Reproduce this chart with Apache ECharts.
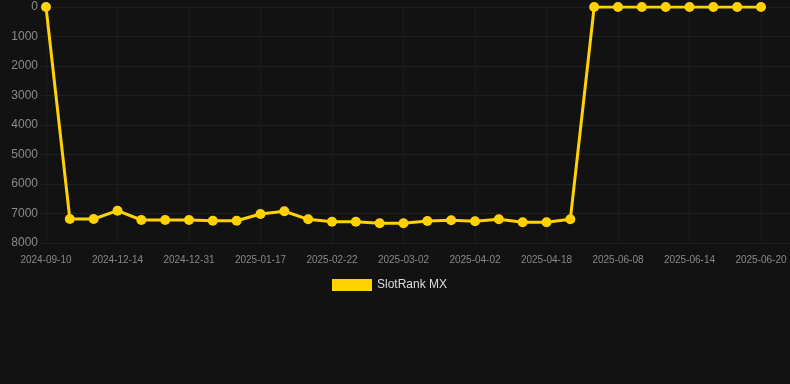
<!DOCTYPE html>
<html><head><meta charset="utf-8">
<script src="https://cdn.jsdelivr.net/npm/echarts@6/dist/echarts.min.js"></script>
<style>html,body{margin:0;padding:0;background:#121212;}#c{width:790px;height:384px;}</style>
</head><body><div id="c"></div>
<script>
var categories = ["2024-09-10","2024-11-20","2024-12-05","2024-12-14","2024-12-19","2024-12-25","2024-12-31","2025-01-06","2025-01-11","2025-01-17","2025-01-29","2025-02-10","2025-02-22","2025-02-25","2025-02-28","2025-03-02","2025-03-12","2025-03-22","2025-04-02","2025-04-07","2025-04-12","2025-04-18","2025-04-25","2025-06-06","2025-06-08","2025-06-10","2025-06-12","2025-06-14","2025-06-16","2025-06-18","2025-06-20"];
var seriesName = "SlotRank MX";
var values = [0,7186,7186,6905,7220,7220,7220,7244,7244,7017,6925,7197,7278,7278,7332,7332,7254,7231,7264,7197,7298,7298,7197,0,0,0,0,0,0,0,0];
var yTicks = {min:0, max:8000, interval:1000};

var chart = echarts.init(document.getElementById('c'));
chart.setOption({
  backgroundColor:'#121212',
  animation:false,
  grid:[{left:46,right:29,top:7,bottom:141,containLabel:false},
        {left:40,right:0,top:7,bottom:141,containLabel:false}],
  legend:{top:274,left:327,itemWidth:40,itemHeight:12,icon:'rect',itemGap:10,
    textStyle:{color:'#dddddd',fontSize:12,fontFamily:'Liberation Sans, Arial, sans-serif'},data:[seriesName]},
  xAxis:[{type:'category',data:categories,boundaryGap:false,gridIndex:0,
    axisLine:{show:false},axisTick:{show:false},
    axisLabel:{interval:2,color:'#888888',fontSize:10,margin:12,fontFamily:'Liberation Sans, Arial, sans-serif'},
    splitLine:{show:true,interval:2,lineStyle:{color:'#1c1c1c',width:1}}},
    {type:'value',gridIndex:1,show:false,min:0,max:1}],
  yAxis:[{type:'value',inverse:true,min:yTicks.min,max:yTicks.max,interval:yTicks.interval,gridIndex:0,
    axisLine:{show:false},axisTick:{show:false},
    axisLabel:{color:'#8a8a8a',fontSize:12,margin:8,fontFamily:'Liberation Sans, Arial, sans-serif',
      formatter:function(v){return String(v);}},
    splitLine:{show:false}},
    {type:'value',inverse:true,min:yTicks.min,max:yTicks.max,interval:yTicks.interval,gridIndex:1,
    axisLine:{show:false},axisTick:{show:false},axisLabel:{show:false},
    splitLine:{show:true,lineStyle:{color:'#1f1f1f',width:1}}}],
  series:[{name:seriesName,type:'line',data:values,xAxisIndex:0,yAxisIndex:0,z:5,
    itemStyle:{color:'#FFD200'},lineStyle:{color:'#FFD200',width:3},
    symbol:'circle',symbolSize:10,showAllSymbol:true}]
});
</script></body></html>
